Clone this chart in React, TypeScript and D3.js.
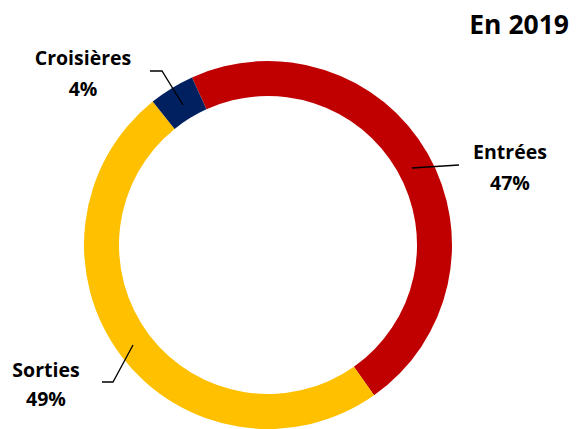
import React from "react";
import * as d3 from "d3";

const categories = ["Entrées", "Sorties", "Croisières"];
const values = [47, 49, 4];
const percentLabels = ["47%", "49%", "4%"];
const colors = ["#C00000", "#FFC000", "#002060"];

const W = 576, H = 429;
const cx = 268, cy = 245, rOuter = 184, rInner = 149;
const startDeg = -24.4;

export default function App() {
  const pie = d3.pie<number>().sort(null)
    .startAngle((startDeg * Math.PI) / 180)
    .endAngle((startDeg * Math.PI) / 180 + 2 * Math.PI);
  const arcs = pie(values);
  const arc = d3.arc<d3.PieArcDatum<number>>().innerRadius(rInner).outerRadius(rOuter);
  const font = "'Open Sans', Arial, sans-serif";

  const labels = [
    { x: 510, y1: 159, y2: 190, line: "M412,168 L459,165" },
    { x: 46, y1: 377, y2: 406, line: "M102,382 L113,382 L133,345" },
    { x: 83, y1: 65, y2: 96, line: "M150,71 L162,71 L183,105" },
  ];

  return (
    <svg width={W} height={H} style={{ position: "absolute", left: 0, top: 0 }}>
      <rect width={W} height={H} fill="white" />
      <g transform={`translate(${cx},${cy})`}>
        {arcs.map((a, i) => (
          <path key={i} d={arc(a) as string} fill={colors[i]} />
        ))}
      </g>
      {labels.map((l, i) => (
        <g key={i}>
          <path d={l.line} fill="none" stroke="black" strokeWidth={1.3} />
          <text x={l.x} y={l.y1} textAnchor="middle" fontFamily={font} fontWeight="bold" fontSize={19.5}>
            {categories[i]}
          </text>
          <text x={l.x} y={l.y2} textAnchor="middle" fontFamily={font} fontWeight="bold" fontSize={19.5}>
            {percentLabels[i]}
          </text>
        </g>
      ))}
      <text x={569} y={34} textAnchor="end" fontFamily={font} fontWeight="bold" fontSize={26.5}>
        En 2019
      </text>
    </svg>
  );
}
